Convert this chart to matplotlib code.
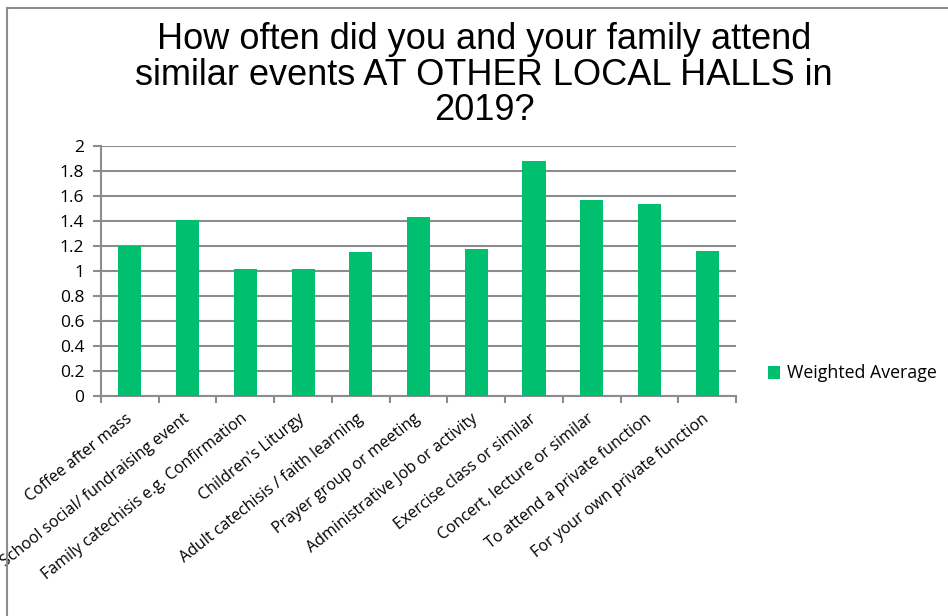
import matplotlib.pyplot as plt
from matplotlib.patches import Rectangle
import numpy as np

# Survey categories and weighted averages
categories = [
    "Coffee after mass",
    "School social/ fundraising event",
    "Family catechisis e.g. Confirmation",
    "Children's Liturgy",
    "Adult catechisis / faith learning",
    "Prayer group or meeting",
    "Administrative Job or activity",
    "Exercise class or similar",
    "Concert, lecture or similar",
    "To attend a private function",
    "For your own private function",
]
weighted_avg = [1.20, 1.41, 1.02, 1.02, 1.15, 1.43, 1.18, 1.88, 1.57, 1.54, 1.16]
y_ticks = [0, 0.2, 0.4, 0.6, 0.8, 1, 1.2, 1.4, 1.6, 1.8, 2]
y_tick_labels = ["0", "0.2", "0.4", "0.6", "0.8", "1", "1.2", "1.4", "1.6", "1.8", "2"]

bar_color = "#00BF6F"
grid_color = "#8C8C8C"

fig = plt.figure(figsize=(9.48, 6.16), dpi=100)
ax = fig.add_axes([101 / 948, 1 - 396 / 616, 635 / 948, 250 / 616])

x = np.arange(len(categories))
ax.bar(x, weighted_avg, width=0.4, color=bar_color, label="Weighted Average", zorder=3)

ax.set_xlim(-0.5, len(categories) - 0.5)
ax.set_ylim(0, 2)
ax.set_yticks(y_ticks)
ax.set_yticklabels(y_tick_labels, fontfamily="Open Sans", fontsize=12.5)
ax.yaxis.grid(True, color=grid_color, linewidth=1.5, zorder=0)

ax.set_xticks(x)
ax.set_xticklabels(categories, rotation=38.5, ha="right", va="center",
                   rotation_mode="anchor", fontfamily="Open Sans", fontsize=11.5)
ax.set_xticks(np.arange(-0.5, len(categories)), minor=True)
ax.tick_params(axis="x", which="major", length=0, pad=15)
ax.tick_params(axis="x", which="minor", length=5, color=grid_color, width=1.5)
ax.tick_params(axis="y", length=6, color=grid_color, width=1.5, pad=6)

for side in ["top", "right"]:
    ax.spines[side].set_visible(False)
for side in ["left", "bottom"]:
    ax.spines[side].set_color(grid_color)
    ax.spines[side].set_linewidth(1.5)

fig.text(484 / 948, 1 - 22 / 616,
         "How often did you and your family attend\nsimilar events AT OTHER LOCAL HALLS in\n2019?",
         ha="center", va="top", fontfamily="Liberation Sans", fontsize=26, linespacing=1.02)

leg = ax.legend(loc="center left", bbox_to_anchor=(1.025, 0.09), frameon=False,
                prop={"family": "Open Sans", "size": 12.8}, handlelength=0.7,
                handleheight=0.7, handletextpad=0.4)

# chart area border (top and left edge visible)
fig.patches.append(Rectangle((7 / 948, -0.1), 1.2, 1 - 8 / 616 + 0.1,
                             transform=fig.transFigure, fill=False,
                             edgecolor="#8C8C8C", linewidth=1.5))

fig.savefig("out.png", dpi=100)
